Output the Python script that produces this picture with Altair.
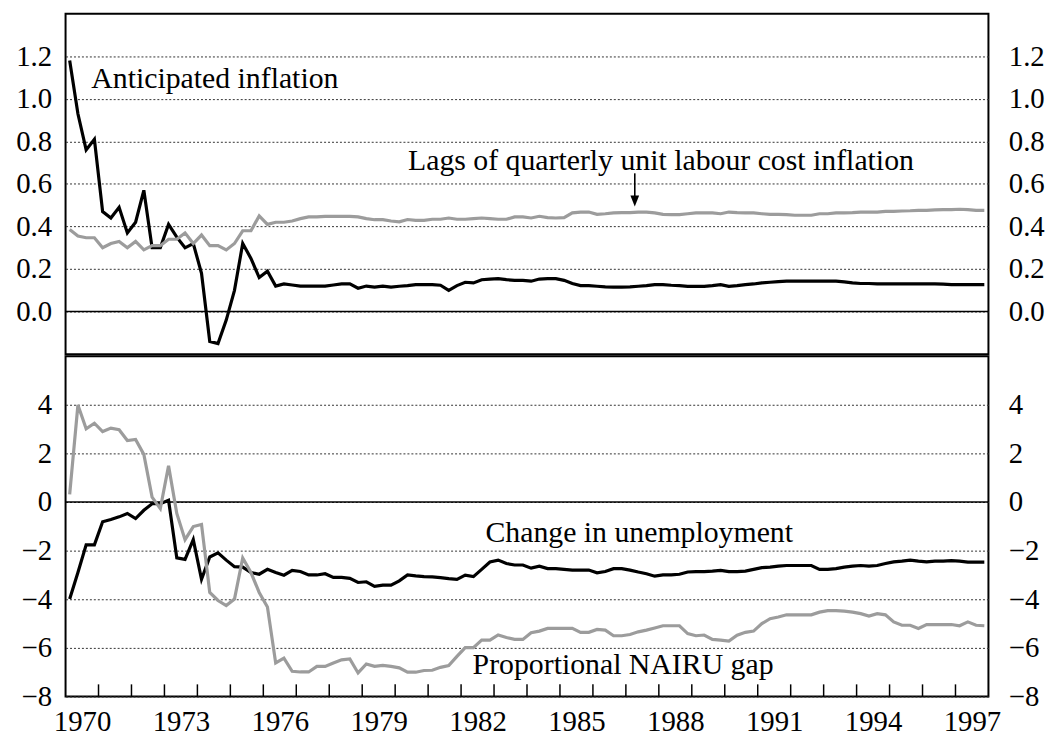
import altair as alt
import pandas as pd

FONT = "Liberation Serif"

# ---------------- data (quarterly, 1970Q1 .. 1997Q4) ----------------
start_year = 1970

anticipated_inflation = [
    1.18, 0.93, 0.76, 0.81, 0.47, 0.44, 0.49, 0.37, 0.42, 0.57,
    0.30, 0.30, 0.41, 0.35, 0.30, 0.32, 0.18, -0.14, -0.15, -0.04,
    0.10, 0.32, 0.25, 0.16, 0.19, 0.12, 0.13, 0.125, 0.12, 0.12,
    0.12, 0.12, 0.125, 0.13, 0.13, 0.11, 0.12, 0.115, 0.12,
    0.115, 0.119, 0.122, 0.127, 0.127, 0.127, 0.124, 0.10, 0.122, 0.138,
    0.135, 0.15, 0.153, 0.155, 0.15, 0.147, 0.147, 0.143, 0.153, 0.155,
    0.155, 0.147, 0.132, 0.122, 0.122, 0.119, 0.116, 0.115, 0.115, 0.116,
    0.119, 0.122, 0.127, 0.127, 0.124, 0.122, 0.119, 0.119, 0.119, 0.122,
    0.127,
    0.119, 0.122, 0.127, 0.13, 0.135, 0.138, 0.141, 0.143, 0.143, 0.143,
    0.143, 0.143, 0.143, 0.143, 0.14, 0.135, 0.132, 0.132, 0.13, 0.13,
    0.13, 0.13, 0.13, 0.13, 0.13, 0.13, 0.129, 0.127, 0.127, 0.127,
    0.127, 0.127,
]

lags_ulc_inflation = [
    0.386, 0.355, 0.347, 0.347, 0.30, 0.32, 0.33, 0.30, 0.33, 0.29,
    0.31, 0.31, 0.34, 0.34, 0.37, 0.32, 0.36, 0.31, 0.31, 0.29,
    0.32, 0.38, 0.38, 0.45, 0.41, 0.42, 0.42, 0.426, 0.437, 0.445,
    0.445, 0.448, 0.448, 0.448, 0.448, 0.445, 0.437, 0.432, 0.432,
    0.426, 0.422, 0.433, 0.429, 0.429, 0.434, 0.434, 0.44, 0.434, 0.434,
    0.437, 0.44, 0.437, 0.434, 0.434, 0.445, 0.445, 0.44, 0.448, 0.442,
    0.44, 0.442, 0.464, 0.468, 0.468, 0.457, 0.46, 0.464, 0.465, 0.465,
    0.468, 0.468, 0.464, 0.457, 0.456, 0.456, 0.46, 0.464, 0.464, 0.464,
    0.46,
    0.468, 0.465, 0.464, 0.464, 0.46, 0.457, 0.457, 0.456, 0.453, 0.453,
    0.453, 0.46, 0.46, 0.464, 0.464, 0.465, 0.468, 0.468, 0.468, 0.471,
    0.471, 0.473, 0.474, 0.476, 0.476, 0.478, 0.479, 0.479, 0.481, 0.479,
    0.476, 0.476,
]

change_unemployment = [
    -3.99, -2.9, -1.76, -1.76, -0.81, -0.72, -0.61, -0.47, -0.68, -0.34,
    -0.07, -0.07, 0.07, -2.3, -2.36, -1.55, -3.18, -2.26, -2.09, -2.39,
    -2.66, -2.68, -2.9, -2.97, -2.77, -2.9, -3.01, -2.81, -2.86, -3.0,
    -3.0, -2.95, -3.1, -3.1, -3.14, -3.31, -3.28, -3.47, -3.42,
    -3.42, -3.24, -3.0, -3.04, -3.07, -3.08, -3.11, -3.15, -3.18, -3.01,
    -3.07, -2.77, -2.47, -2.39, -2.53, -2.59, -2.59, -2.72, -2.64, -2.74,
    -2.74, -2.77, -2.8, -2.8, -2.8, -2.91, -2.86, -2.74, -2.74, -2.8,
    -2.88, -2.95, -3.05, -3.0, -3.0, -2.97, -2.88, -2.86, -2.86, -2.84,
    -2.81,
    -2.86, -2.86, -2.84, -2.77, -2.7, -2.68, -2.64, -2.61, -2.61, -2.61,
    -2.61, -2.77, -2.77, -2.74, -2.68, -2.64, -2.61, -2.64, -2.61, -2.53,
    -2.46, -2.43, -2.39, -2.43, -2.46, -2.43, -2.43, -2.41, -2.43, -2.47,
    -2.47, -2.47,
]

nairu_gap = [
    0.31, 3.99, 3.01, 3.24, 2.9, 3.04, 2.97, 2.53, 2.57, 1.96,
    0.2, -0.27, 1.49, -0.47, -1.55, -1.01, -0.92, -3.72, -4.05, -4.26,
    -3.99, -2.3, -2.9, -3.72, -4.32, -6.62, -6.42, -6.96, -6.99, -6.99,
    -6.76, -6.76, -6.62, -6.49, -6.45, -7.03, -6.66, -6.76, -6.72,
    -6.76, -6.82, -7.0, -7.0, -6.93, -6.92, -6.8, -6.73, -6.35, -5.99,
    -5.99, -5.68, -5.68, -5.47, -5.57, -5.65, -5.65, -5.38, -5.31, -5.2,
    -5.2, -5.2, -5.2, -5.36, -5.36, -5.24, -5.27, -5.5, -5.5, -5.45,
    -5.34, -5.27, -5.18, -5.09, -5.09, -5.09, -5.41, -5.5, -5.47, -5.65,
    -5.68,
    -5.72, -5.48, -5.36, -5.31, -5.0, -4.8, -4.73, -4.64, -4.64, -4.64,
    -4.64, -4.53, -4.47, -4.47, -4.49, -4.53, -4.59, -4.69, -4.59, -4.64,
    -4.93, -5.07, -5.07, -5.2, -5.04, -5.04, -5.04, -5.04, -5.09, -4.93,
    -5.07, -5.09,
]

x_label_years = [1970, 1973, 1976, 1979, 1982, 1985, 1988, 1991, 1994, 1997]
x_minor_ticks = list(range(1971, 1998))
top_ticks = [0.0, 0.2, 0.4, 0.6, 0.8, 1.0, 1.2]
bottom_ticks = [-8, -6, -4, -2, 0, 2, 4]

top_labels = ["Anticipated inflation", "Lags of quarterly unit labour cost inflation"]
top_label_t = [1970.78, 1980.39]
top_label_v = [1.049, 0.667]
bottom_labels = ["Change in unemployment", "Proportional NAIRU gap"]
bottom_label_t = [1982.74, 1982.35]
bottom_label_v = [-1.66, -7.09]

# ---------------- tables ----------------
n = len(anticipated_inflation)
t = [start_year + (i + 0.5) / 4 for i in range(n)]
df_top = pd.DataFrame({"t": t, "ant": anticipated_inflation, "lags": lags_ulc_inflation})
df_bot = pd.DataFrame({"t": t, "unemp": change_unemployment, "nairu": nairu_gap})
df_top_lab = pd.DataFrame({"t": top_label_t, "v": top_label_v, "text": top_labels})
df_bot_lab = pd.DataFrame({"t": bottom_label_t, "v": bottom_label_v, "text": bottom_labels})
df_zero = pd.DataFrame({"v": [0]})
df_arrow = pd.DataFrame({"t": [1987.27], "v1": [0.65], "v2": [0.53], "head": [0.52]})
df_ticks = pd.DataFrame({"t": x_minor_ticks, "y0": [-8] * len(x_minor_ticks),
                         "y1": [-7.5] * len(x_minor_ticks)})

# ---------------- scales / axes ----------------
xscale = alt.Scale(domain=[1970, 1998], nice=False, zero=False)
ytop = alt.Scale(domain=[-0.2, 1.4], nice=False, zero=False)
ybot = alt.Scale(domain=[-8, 6], nice=False, zero=False)

def yaxis(values, fmt, orient, grid):
    kw = dict(
        orient=orient, values=values, format=fmt, grid=grid, ticks=False,
        tickSize=0, domain=False, labelFontSize=29, labelFont=FONT,
        labelColor="black", title=None, labelOverlap=False,
        minExtent=49, maxExtent=49,
    )
    if grid:
        kw.update(gridDash=[2, 2], gridColor="#333333", gridWidth=1)
    if orient == "left":
        kw.update(labelPadding=14)
    else:
        kw.update(labelPadding=20, labelAlign="left")
    return alt.Axis(**kw)

X_top = alt.X("t:Q", scale=xscale, axis=None)
x_axis = alt.Axis(
    values=[y + 0.5 for y in x_label_years], labelExpr="floor(datum.value)",
    ticks=False, domain=False, grid=False, labelFontSize=29, labelFont=FONT,
    labelColor="black", labelPadding=34, labelBaseline="alphabetic",
    labelFlush=False, labelOverlap=False, title=None,
)
X_bot = alt.X("t:Q", scale=xscale, axis=x_axis)

GRAY = "#9c9c9c"
W = 930

# ---------------- top panel ----------------
t_black = alt.Chart(df_top).mark_line(color="black", strokeWidth=3.2).encode(
    x=X_top, y=alt.Y("ant:Q", scale=ytop, axis=yaxis(top_ticks, ".1f", "left", True)))
t_gray = alt.Chart(df_top).mark_line(color=GRAY, strokeWidth=3.2).encode(
    x=X_top, y=alt.Y("lags:Q", scale=ytop, axis=yaxis(top_ticks, ".1f", "right", False)))
t_zero = alt.Chart(df_zero).mark_rule(color="black", strokeWidth=1.5).encode(
    y=alt.Y("v:Q", scale=ytop, axis=None))
t_text = alt.Chart(df_top_lab).mark_text(
    align="left", baseline="alphabetic", font=FONT, fontSize=30, color="black").encode(
    x=X_top, y=alt.Y("v:Q", scale=ytop, axis=None), text="text:N")
t_shaft = alt.Chart(df_arrow).mark_rule(color="black", strokeWidth=1.6).encode(
    x=X_top, y=alt.Y("v1:Q", scale=ytop, axis=None), y2="v2:Q")
t_head = alt.Chart(df_arrow).mark_point(
    shape="M-0.8,-1L0.8,-1L0,1Z", filled=True, size=121, color="black", opacity=1).encode(
    x=X_top, y=alt.Y("head:Q", scale=ytop, axis=None))

top = alt.layer(t_zero, t_black, t_gray, t_text, t_shaft, t_head).resolve_scale(
    y="independent").properties(width=W, height=343)

# ---------------- bottom panel ----------------
b_black = alt.Chart(df_bot).mark_line(color="black", strokeWidth=3.2).encode(
    x=X_bot, y=alt.Y("unemp:Q", scale=ybot, axis=yaxis(bottom_ticks, "d", "left", True)))
b_gray = alt.Chart(df_bot).mark_line(color=GRAY, strokeWidth=3.2).encode(
    x=X_bot, y=alt.Y("nairu:Q", scale=ybot, axis=yaxis(bottom_ticks, "d", "right", False)))
b_zero = alt.Chart(df_zero).mark_rule(color="black", strokeWidth=1.5).encode(
    y=alt.Y("v:Q", scale=ybot, axis=None))
b_text = alt.Chart(df_bot_lab).mark_text(
    align="left", baseline="alphabetic", font=FONT, fontSize=30, color="black").encode(
    x=X_bot, y=alt.Y("v:Q", scale=ybot, axis=None), text="text:N")
b_ticks = alt.Chart(df_ticks).mark_rule(color="black", strokeWidth=1.5).encode(
    x=X_bot, y=alt.Y("y0:Q", scale=ybot, axis=None), y2="y1:Q")

bottom = alt.layer(b_zero, b_ticks, b_black, b_gray, b_text).resolve_scale(
    y="independent").properties(width=W, height=343)

chart = alt.vconcat(top, bottom, spacing=0).properties(
    padding={"left": 6, "top": 2, "right": 0, "bottom": 0}
).configure(font=FONT).configure_view(stroke="black", strokeWidth=2)

chart.save("out.html", embed_options={"renderer": "svg", "actions": False})
